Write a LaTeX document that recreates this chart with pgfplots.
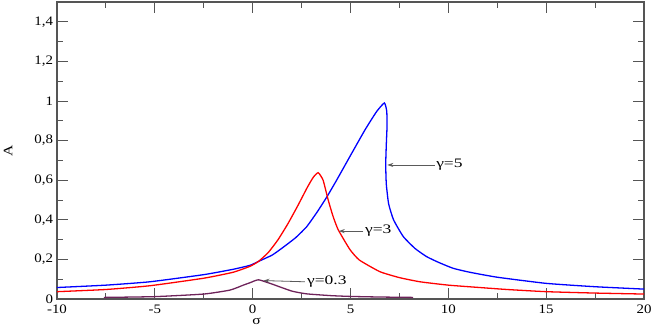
\documentclass[border=0pt]{standalone}
\usepackage{fontspec}
\setmainfont{Liberation Serif}
\usepackage{pgfplots}
\pgfplotsset{compat=1.18}
\usetikzlibrary{arrows.meta}
\definecolor{framegray}{RGB}{85,85,85}
\definecolor{curvepurple}{RGB}{110,35,90}
\definecolor{arrowgray}{RGB}{90,90,90}
\tikzset{
annot/.style={anchor=west,inner sep=1bp,xscale=1.35},
arr/.style={arrowgray,line width=0.8pt,-{Stealth[length=6bp,width=4bp]}},
}

\begin{document}
\begin{tikzpicture}[font=\fontsize{13}{15}\selectfont]
\begin{axis}[
scale only axis,width=587bp,height=297bp,
xmin=-10,xmax=20,ymin=0,ymax=1.5,
xtick={-10,-5,0,5,10,15,20},minor x tick num=1,
ytick={0,0.2,0.4,0.6,0.8,1,1.2,1.4},minor y tick num=1,
tick align=inside,major tick length=11bp,minor tick length=6bp,
axis line style={framegray,line width=1.4pt},
every tick/.style={framegray,line width=0.9pt},
ticklabel style={xscale=1.15},
xticklabel style={yshift=-2bp},
/pgf/number format/use comma,
/pgf/number format/assume math mode=true,
xlabel={σ},ylabel={A},
xlabel style={at={(axis description cs:0.34,0)},anchor=center,yshift=-22bp,xscale=1.2},
ylabel style={at={(axis description cs:0,0.5)},anchor=center,yshift=49bp,xscale=1.2},
]
% gamma = 5
\addplot[blue,line width=1.3pt,smooth,tension=0.3] coordinates {
(-10,0.058) (-7.5,0.07) (-5.25,0.087) (-2.5,0.123) (-1,0.15) (-0.14,0.17)
(0.3,0.19) (1,0.222) (1.57,0.262) (2.2,0.31) (2.76,0.365) (3.3,0.44)
(3.8,0.517) (4.29,0.6) (5,0.725) (5.74,0.854) (6.33,0.946)
(6.73,0.99) (6.85,0.95) (6.87,0.88) (6.83,0.78) (6.8,0.68) (6.83,0.58)
(6.95,0.48) (7.2,0.4) (7.7,0.315) (8.3,0.255) (8.89,0.214) (9.5,0.185)
(10.25,0.155) (11.1,0.135) (12.5,0.11) (15,0.079) (17.5,0.062) (20,0.05)};
% gamma = 3
\addplot[red,line width=1.3pt,smooth,tension=0.3] coordinates {
(-10,0.037) (-7.5,0.048) (-5.25,0.067) (-2.5,0.105) (-1,0.135) (-0.14,0.165)
(0.3,0.19) (0.8,0.235) (1.3,0.3) (1.8,0.38) (2.3,0.47) (2.8,0.565)
(3.1,0.615) (3.35,0.638) (3.6,0.6) (3.86,0.5) (4.1,0.42) (4.37,0.35)
(4.97,0.25) (5.45,0.197) (6.5,0.138) (7.5,0.108) (8.55,0.087) (10,0.07)
(11.6,0.058) (13,0.048) (15,0.037) (17.5,0.03) (20,0.025)};
% gamma = 0.3
\addplot[curvepurple,line width=1.3pt,smooth,tension=0.3] coordinates {
(-7.6,0.008) (-5,0.012) (-2.5,0.025) (-1.16,0.045) (-0.48,0.07) (-0.14,0.082)
(0.3,0.097) (1,0.075) (2,0.04) (2.76,0.026) (4,0.017) (5,0.013)
(6.5,0.01) (8.2,0.008)};
\draw[arr] (axis cs:9.3,0.677) -- (axis cs:6.88,0.677);
\node[annot] at (axis cs:9.3,0.677) {γ=5};
\draw[arr] (axis cs:5.66,0.343) -- (axis cs:4.4,0.343);
\node[annot] at (axis cs:5.66,0.343) {γ=3};
\draw[arr] (axis cs:2.67,0.087) -- (axis cs:0.55,0.093);
\node[annot] at (axis cs:2.7,0.087) {γ=0.3};
\end{axis}
\pgfresetboundingbox
\path[use as bounding box] (-57bp,-28bp) rectangle (597bp,299bp);
\end{tikzpicture}
\end{document}
